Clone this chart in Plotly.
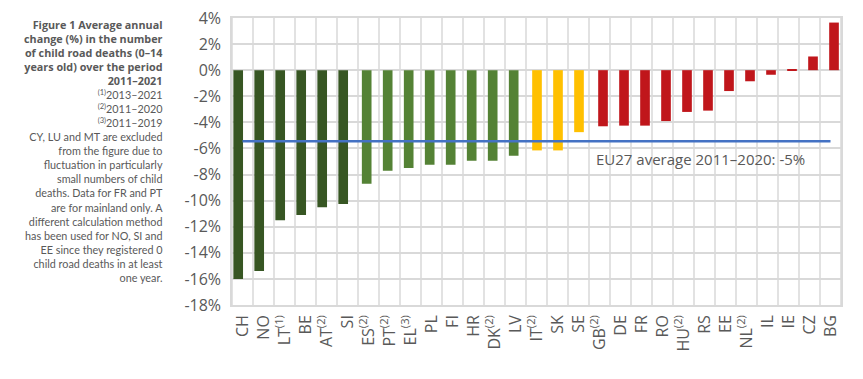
import plotly.graph_objects as go

# ---- data ----
categories = ["CH", "NO", "LT<sup>(1)</sup>", "BE", "AT<sup>(2)</sup>", "SI",
              "ES<sup>(2)</sup>", "PT<sup>(2)</sup>", "EL<sup>(3)</sup>", "PL", "FI", "HR",
              "DK<sup>(2)</sup>", "LV", "IT<sup>(2)</sup>", "SK", "SE", "GB<sup>(2)</sup>",
              "DE", "FR", "RO", "HU<sup>(2)</sup>", "RS", "EE", "NL<sup>(2)</sup>", "IL",
              "IE", "CZ", "BG"]
values = [-16.0, -15.4, -11.5, -11.1, -10.5, -10.25,
          -8.7, -7.7, -7.5, -7.25, -7.25, -6.95,
          -6.95, -6.55, -6.15, -6.15, -4.75, -4.3,
          -4.25, -4.25, -3.9, -3.2, -3.1, -1.6, -0.85, -0.35,
          0.08, 1.05, 3.65]
groups = ["dark"] * 6 + ["light"] * 8 + ["yellow"] * 3 + ["red"] * 12
eu_average = -5.45
eu_label = "EU27 average 2011–2020: -5%"
y_ticks = [4, 2, 0, -2, -4, -6, -8, -10, -12, -14, -16, -18]
y_ticktext = ["4%", "2%", "0%", "-2%", "-4%", "-6%", "-8%", "-10%", "-12%",
              "-14%", "-16%", "-18%"]
title_lines = ["Figure 1 Average annual", "change (%) in the number",
               "of child road deaths (0–14", "years old) over the period", "2011–2021"]
note_lines = ["<sup>(1)</sup>2013–2021", "<sup>(2)</sup>2011–2020", "<sup>(3)</sup>2011–2019",
              "CY, LU and MT are excluded", "from the figure due to",
              "fluctuation in particularly", "small numbers of child",
              "deaths. Data for FR and PT", "are for mainland only. A",
              "different calculation method", "has been used for NO, SI and",
              "EE since they registered 0", "child road deaths in at least", "one year."]

# ---- styles ----
colors = {"dark": "#375623", "light": "#548235", "yellow": "#FFC000", "red": "#C0161B"}
offsets = {"dark": -0.435, "light": -0.316, "yellow": -0.206, "red": -0.063}
BAR_W = 0.46
GRID = "#D9D9D9"
TXT = "#595959"
FONT = "Open Sans, Noto Sans, sans-serif"
CAP_FONT = "Lato, Open Sans, sans-serif"

n = len(categories)

caption = "<br>".join(
    ["<span style='font-family:Open Sans'><b>%s</b></span>" % t for t in title_lines]
    + note_lines)

fig = go.Figure()
for g in ["dark", "light", "yellow", "red"]:
    xs = [c for c, gg in zip(categories, groups) if gg == g]
    ys = [v for v, gg in zip(values, groups) if gg == g]
    fig.add_trace(go.Bar(x=xs, y=ys, marker_color=colors[g], marker_line_width=0,
                         width=BAR_W, offset=offsets[g], showlegend=False))

fig.add_trace(go.Scatter(x=[categories[0], categories[-1]], y=[eu_average, eu_average],
                         mode="lines", line=dict(color="#4472C4", width=2.5),
                         showlegend=False, hoverinfo="skip"))

# vertical grid lines at category boundaries
for i in range(n + 1):
    fig.add_shape(type="line", xref="x", yref="y domain", x0=i - 0.5, x1=i - 0.5,
                  y0=0, y1=1, line=dict(color=GRID, width=1.5), layer="below")

fig.add_annotation(x=0.594, xref="paper", y=-6.8, yref="y", text=eu_label,
                   showarrow=False, xanchor="left", yanchor="middle",
                   font=dict(family=FONT, size=15, color=TXT))

fig.add_annotation(x=-0.11, xref="paper", y=1.012, yref="paper", text=caption,
                   showarrow=False, xanchor="right", yanchor="top", align="right",
                   font=dict(family=CAP_FONT, size=10.8, color=TXT))

# page body has an 8px default margin: figure is sized/placed to compensate
fig.update_layout(
    width=847, height=363,
    margin=dict(l=224, r=14, t=10, b=66, autoexpand=False),
    paper_bgcolor="white", plot_bgcolor="white",
    barmode="overlay",
    font=dict(family=FONT, color=TXT),
)
fig.update_xaxes(type="category", categoryorder="array", categoryarray=categories,
                 range=[-0.5, n - 0.5], showgrid=False, ticks="", automargin=False,
                 showline=True, mirror=True, linecolor=GRID, linewidth=1.5,
                 tickangle=-90, tickfont=dict(family=FONT, size=16, color=TXT),
                 ticklabelstandoff=2, ticklabeloverflow="allow")
fig.update_yaxes(range=[-18, 4], tickvals=y_ticks, ticktext=y_ticktext, automargin=False,
                 showgrid=True, gridcolor=GRID, gridwidth=1.5, zeroline=False,
                 showline=True, mirror=True, linecolor=GRID, linewidth=1.5,
                 ticks="", tickfont=dict(family=FONT, size=16, color=TXT),
                 ticklabelstandoff=6, ticklabeloverflow="allow")

fig.write_html("out.html")
